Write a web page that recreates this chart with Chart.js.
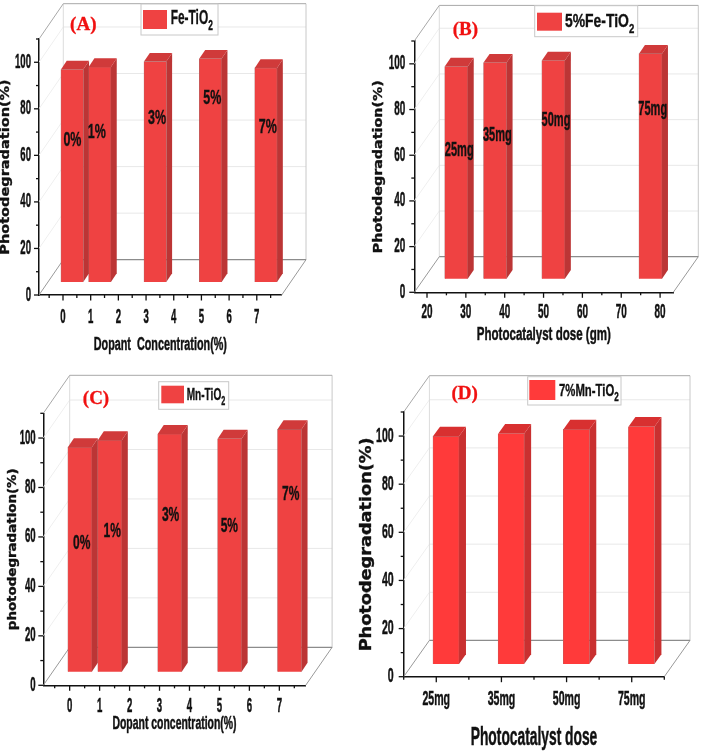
<!DOCTYPE html>
<html>
<head>
<meta charset="utf-8">
<title>Photodegradation</title>
<script src="https://cdn.jsdelivr.net/npm/chart.js@4"></script>
<style>
  html, body { margin: 0; padding: 0; background: #fff; }
  #wrap { position: relative; width: 702px; height: 751px; overflow: hidden; }
  canvas { position: absolute; }
</style>
</head>
<body>
<div id="wrap">
  <canvas id="panelA" width="351" height="365" style="left:0;top:0"></canvas>
  <canvas id="panelB" width="351" height="365" style="left:351px;top:0"></canvas>
  <canvas id="panelC" width="351" height="386" style="left:0;top:365px"></canvas>
  <canvas id="panelD" width="351" height="386" style="left:351px;top:365px"></canvas>
</div>
<script>
// values
const dopantLevels = [0, 1, 3, 5, 7];
const doseLevels = [25, 35, 50, 75];
const doseCategories = ['25mg', '35mg', '50mg', '75mg'];

const feValues = [91.3, 92.4, 94.7, 96, 92];
const feDoseValues = [92.9, 94.6, 95.5, 98.5];
const mnValues = [90.8, 93.6, 96.1, 94.2, 98];
const mnDoseValues = [94.6, 95.7, 97.5, 98.6];

const dopantTexts = ['0%', '1%', '3%', '5%', '7%'];

// where the text on each bar sits, in axis units
const feTextX = [0.34, 1.22, 3.4, 5.39, 7.4];
const feTextY = [66.3, 69.9, 76, 84.4, 71.9];
const feDoseTextX = [28.3, 38.1, 53.2, 78.1];
const feDoseTextY = [62.2, 68.8, 75.3, 80];
const mnTextX = [0.4, 1.42, 3.37, 5.33, 7.38];
const mnTextY = [57.5, 62.3, 68.7, 64.2, 77.3];

const TICK_FONT = '"Liberation Sans"';
const TITLE_FONT = '"Liberation Sans", Arial';

// there is no narrow font here, the figure text is squeezed instead
function squeezeText(ctx, tick, title) {
  const raw = ctx.fillText.bind(ctx);
  ctx.rawFillText = raw;
  ctx.fillText = (text, x, y) => {
    let s = [1, 0.85];
    if (ctx.font.includes('Arial')) s = title;
    else if (ctx.font.includes('Liberation Sans')) s = tick;
    ctx.save();
    ctx.translate(x, y);
    ctx.scale(s[0], s[1]);
    raw(text, 0, 0);
    ctx.strokeStyle = ctx.fillStyle;
    ctx.lineWidth = 0.4;
    ctx.strokeText(text, 0, 0);
    ctx.restore();
  };
}

function boxText(ctx, text, x, y, font, sx, sy, color, align) {
  ctx.save();
  ctx.translate(x, y);
  ctx.scale(sx, sy);
  ctx.font = font;
  ctx.fillStyle = color || '#111';
  ctx.textAlign = align || 'center';
  ctx.textBaseline = 'middle';
  ctx.rawFillText(text, 0, 0);
  ctx.strokeStyle = ctx.fillStyle;
  ctx.lineWidth = 0.3;
  ctx.strokeText(text, 0, 0);
  ctx.restore();
}

function line(ctx, x1, y1, x2, y2, color, w) {
  ctx.strokeStyle = color;
  ctx.lineWidth = w || 1;
  ctx.beginPath();
  ctx.moveTo(x1, y1);
  ctx.lineTo(x2, y2);
  ctx.stroke();
}

function poly(ctx, pts, color) {
  ctx.fillStyle = color;
  ctx.beginPath();
  pts.forEach((p, i) => i ? ctx.lineTo(p[0], p[1]) : ctx.moveTo(p[0], p[1]));
  ctx.closePath();
  ctx.fill();
}

// walls, floor and grid behind the bars
const wallsPlugin = {
  id: 'walls',
  beforeDatasetsDraw(chart) {
    const p = chart.options.plugins.walls;
    const ctx = chart.ctx;
    const { left, right, top, bottom } = chart.chartArea;
    const dx = p.wallDx, dy = p.wallDy;
    const y = chart.scales.y;
    ctx.save();
    y.ticks.forEach(t => {
      if (t.value % 20 !== 0 || t.value === 0) return;
      const py = y.getPixelForValue(t.value);
      line(ctx, left, py, left + dx, py - dy, '#efefef');
      line(ctx, left + dx, py - dy, right + dx, py - dy, '#e8e8e8');
    });
    line(ctx, left + dx, top - dy, left + dx, bottom - dy, '#dcdcdc');
    line(ctx, right + dx, top - dy, right + dx, bottom - dy, '#c8c8c8');
    line(ctx, left, top, left + dx, top - dy, '#a8a8a8');
    line(ctx, left + dx, top - dy, right + dx, top - dy, '#a8a8a8');
    line(ctx, left, bottom, left + dx, bottom - dy, '#999');
    line(ctx, right, bottom, right + dx, bottom - dy, '#999');
    line(ctx, left + dx, bottom - dy, right + dx, bottom - dy, '#8c8c8c', 1.3);
    ctx.restore();
  }
};

// side and top faces of the bars, then the bars are moved onto the floor
const depthPlugin = {
  id: 'depth',
  beforeDatasetDraw(chart, args) {
    const p = chart.options.plugins.depth;
    const ctx = chart.ctx;
    ctx.save();
    ctx.translate(p.shiftX, -p.shiftY);
    chart.getDatasetMeta(args.index).data.forEach(bar => {
      const l = bar.x - bar.width / 2;
      const r = bar.x + bar.width / 2;
      poly(ctx, [[r, bar.y], [r + p.dx, bar.y - p.dy], [r + p.dx, bar.base - p.dy], [r, bar.base]], p.sideColor);
      poly(ctx, [[l, bar.y], [r, bar.y], [r + p.dx, bar.y - p.dy], [l + p.dx, bar.y - p.dy]], p.topColor);
    });
  },
  afterDatasetDraw(chart) {
    chart.ctx.restore();
  }
};

// axis tick marks, text on the bars, panel letter and legend
const notesPlugin = {
  id: 'notes',
  afterDraw(chart) {
    const p = chart.options.plugins.notes;
    const ctx = chart.ctx;
    const { x, y } = chart.scales;
    const { left, right, bottom } = chart.chartArea;
    ctx.save();
    y.ticks.forEach(t => {
      const py = y.getPixelForValue(t.value);
      line(ctx, left - (t.value % 20 === 0 ? 5 : 3), py, left, py, '#111', 1.3);
    });
    if (p.categoryTicks) {
      const step = (right - left) / p.categoryTicks;
      for (let i = 0; i <= p.categoryTicks * 2; i++) {
        const px = left + i * step / 2;
        line(ctx, px, bottom, px, bottom + (i % 2 ? 5.5 : 3), '#111', 1.3);
      }
    } else {
      x.ticks.forEach(t => {
        const px = x.getPixelForValue(t.value);
        line(ctx, px, bottom, px, bottom + (t.label !== '' ? 5.5 : 3), '#111', 1.3);
      });
    }
    (p.texts || []).forEach((text, i) => {
      boxText(ctx, text, x.getPixelForValue(p.textX[i]), y.getPixelForValue(p.textY[i]),
        'bold 16px ' + TICK_FONT, p.textSx, 1.28);
    });
    boxText(ctx, p.letter, p.letterX, p.letterY, 'bold 19px "Liberation Serif", serif', 1, 1, '#f01010');

    const b = p.legend;
    ctx.fillStyle = '#fff';
    ctx.fillRect(b.x, b.y, b.w, b.h);
    ctx.strokeStyle = '#c8c8c8';
    ctx.lineWidth = 1;
    ctx.strokeRect(b.x, b.y, b.w, b.h);
    ctx.fillStyle = chart.data.datasets[0].backgroundColor;
    ctx.fillRect(b.swatchX, b.swatchY, b.swatchW, b.swatchH);
    const font = 'bold ' + b.size + 'px ' + TICK_FONT;
    boxText(ctx, b.text, b.textX, b.textY, font, b.sx, 1.2, '#111', 'left');
    ctx.font = font;
    const w = ctx.measureText(b.text).width * b.sx;
    boxText(ctx, '2', b.textX + w, b.textY + b.size * 0.45, 'bold ' + Math.round(b.size * 0.7) + 'px ' + TICK_FONT, b.sx, 1.2, '#111', 'left');
    ctx.restore();
  }
};

function makePanel(id, p) {
  const padLeft = p.yTitleX - p.yTitleSize / 2;
  const padBottom = p.height - p.xTitleY - p.xTitleSize / 2;
  const padRight = p.width - p.right;
  const canvas = document.getElementById(id);
  squeezeText(canvas.getContext('2d'), [p.tickSx, 1.25], [p.xTitleSx, 1.25]);

  const xScale = {
    offset: false,
    border: { display: true, color: '#111', width: 1.5 },
    grid: { display: false, drawTicks: false },
    ticks: {
      padding: p.xTickPadding,
      autoSkip: false,
      maxRotation: 0,
      color: '#111',
      font: { family: TICK_FONT, weight: 'bold', size: 16, lineHeight: 1 }
    },
    title: {
      display: true,
      text: p.xTitle,
      color: '#111',
      padding: 0,
      font: { family: TITLE_FONT, weight: 'bold', size: p.xTitleSize, lineHeight: 1 }
    },
    afterFit(s) {
      s.height = p.height - padBottom - p.bottom;
      s.paddingLeft = s.paddingRight = s.paddingTop = s.paddingBottom = 0;
    }
  };
  if (p.categories) {
    xScale.type = 'category';
    xScale.offset = true;
  } else {
    xScale.type = 'linear';
    xScale.min = p.xMin;
    xScale.max = p.xMax;
    xScale.ticks.stepSize = p.xStep;
    xScale.ticks.includeBounds = false;
    xScale.ticks.callback = v => (v % p.xLabelStep === 0 ? String(v) : '');
  }

  new Chart(canvas, {
    type: 'bar',
    data: {
      labels: p.categories,
      datasets: [{
        label: p.legend.text + '2',
        data: p.categories ? p.values : p.levels.map((v, i) => ({ x: v, y: p.values[i] })),
        backgroundColor: p.frontColor,
        borderColor: p.edgeColor,
        borderWidth: 0.6,
        barThickness: p.barWidth,
        clip: false
      }]
    },
    options: {
      responsive: false,
      animation: false,
      layout: { padding: { left: padLeft, right: padRight, top: p.top, bottom: padBottom } },
      scales: {
        x: xScale,
        y: {
          min: 0,
          max: 110,
          border: { display: true, color: '#111', width: 1.5 },
          grid: { display: false, drawTicks: false },
          ticks: {
            stepSize: 10,
            padding: p.yTickPadding,
            autoSkip: false,
            color: '#111',
            font: { family: TICK_FONT, weight: 'bold', size: 16, lineHeight: 1 },
            callback: v => (v % 20 === 0 ? String(v) : '')
          },
          title: {
            display: true,
            text: p.yTitle,
            color: '#111',
            padding: 0,
            font: { family: '"DejaVu Sans"', weight: 'bold', size: p.yTitleSize, lineHeight: 1 }
          },
          afterFit(s) {
            s.width = p.left - padLeft;
            s.paddingLeft = s.paddingRight = s.paddingTop = s.paddingBottom = 0;
          }
        }
      },
      plugins: {
        legend: { display: false },
        tooltip: { enabled: false },
        walls: { wallDx: p.wallDx, wallDy: p.wallDy },
        depth: {
          shiftX: p.shiftX, shiftY: p.shiftY, dx: p.depthX, dy: p.depthY,
          sideColor: p.sideColor, topColor: p.topColor
        },
        notes: {
          texts: p.texts, textX: p.textX, textY: p.textY, textSx: p.textSx,
          letter: p.letter, letterX: p.letterX, letterY: p.letterY,
          legend: p.legend, categoryTicks: p.categories ? p.categories.length : 0
        }
      }
    },
    plugins: [wallsPlugin, depthPlugin, notesPlugin]
  });
}

makePanel('panelA', {
  width: 351, height: 365,
  left: 39, right: 281.7, top: 39, bottom: 295,
  wallDx: 24.3, wallDy: 35.3,
  shiftX: 9.1, shiftY: 13, depthX: 5.8, depthY: 8.7, barWidth: 22.3,
  levels: dopantLevels, values: feValues,
  xMin: -0.867, xMax: 7.9, xStep: 0.5, xLabelStep: 1, xTickPadding: 14, yTickPadding: 8,
  tickSx: 0.6, xTitle: 'Dopant  Concentration(%)', xTitleSize: 15, xTitleSx: 0.72, xTitleY: 345,
  yTitle: 'Photodegradation(%)', yTitleSize: 14.5, yTitleX: 6,
  frontColor: '#ef4242', edgeColor: '#b05a5a', sideColor: '#bc3535', topColor: '#d03a3a',
  texts: dopantTexts, textX: feTextX, textY: feTextY, textSx: 0.78,
  letter: '(A)', letterX: 83.3, letterY: 25,
  legend: { x: 141, y: 4, w: 77, h: 31, swatchX: 143, swatchY: 10, swatchW: 24, swatchH: 19, text: 'Fe-TiO', textX: 170.7, textY: 18, size: 17, sx: 0.7 }
});

makePanel('panelB', {
  width: 351, height: 365,
  left: 63.3, right: 322.3, top: 41, bottom: 292.3,
  wallDx: 25, wallDy: 35.6,
  shiftX: 9.8, shiftY: 13.6, depthX: 6, depthY: 8.7, barWidth: 23,
  levels: doseLevels, values: feDoseValues,
  xMin: 16.73, xMax: 83.4, xStep: 5, xLabelStep: 10, xTickPadding: 12, yTickPadding: 9,
  tickSx: 0.62, xTitle: 'Photocatalyst dose (gm)', xTitleSize: 15, xTitleSx: 0.77, xTitleY: 335,
  yTitle: 'Photodegradation(%)', yTitleSize: 14.3, yTitleX: 28.3,
  frontColor: '#ef4242', edgeColor: '#b05a5a', sideColor: '#bc3535', topColor: '#d03a3a',
  texts: doseCategories, textX: feDoseTextX, textY: feDoseTextY, textSx: 0.69,
  letter: '(B)', letterX: 114.3, letterY: 30,
  legend: { x: 183.7, y: 5.7, w: 103, h: 31, swatchX: 186, swatchY: 12.7, swatchW: 25, swatchH: 18, text: '5%Fe-TiO', textX: 214, textY: 22, size: 16, sx: 0.87 }
});

makePanel('panelC', {
  width: 351, height: 386,
  left: 43.3, right: 305.7, top: 48.3, bottom: 320.3,
  wallDx: 26.4, wallDy: 38,
  shiftX: 10.2, shiftY: 13.6, depthX: 6, depthY: 9, barWidth: 24,
  levels: dopantLevels, values: mnValues,
  xMin: -0.88, xMax: 7.88, xStep: 0.5, xLabelStep: 1, xTickPadding: 12.7, yTickPadding: 7.6,
  tickSx: 0.6, xTitle: 'Dopant concentration(%)', xTitleSize: 14.5, xTitleSx: 0.72, xTitleY: 359,
  yTitle: 'photodegradation(%)', yTitleSize: 13.4, yTitleX: 12.7,
  frontColor: '#ef4242', edgeColor: '#b05a5a', sideColor: '#bc3535', topColor: '#d03a3a',
  texts: dopantTexts, textX: mnTextX, textY: mnTextY, textSx: 0.75,
  letter: '(C)', letterX: 96, letterY: 34,
  legend: { x: 158.7, y: 16.7, w: 70, h: 27.6, swatchX: 161.3, swatchY: 20.7, swatchW: 22.7, swatchH: 17.6, text: 'Mn-TiO', textX: 186.7, textY: 30, size: 14, sx: 0.72 }
});

makePanel('panelD', {
  width: 351, height: 386,
  left: 52.7, right: 313.3, top: 47, bottom: 311.7,
  wallDx: 25.7, wallDy: 36.3,
  shiftX: 9.7, shiftY: 12.7, depthX: 7, depthY: 9.7, barWidth: 26,
  categories: doseCategories, values: mnDoseValues,
  xTickPadding: 15, yTickPadding: 10,
  tickSx: 0.66, xTitle: 'Photocatalyst dose', xTitleSize: 20, xTitleSx: 0.69, xTitleY: 373.3,
  yTitle: 'Photodegradation(%)', yTitleSize: 17.7, yTitleX: 15.7,
  frontColor: '#ff3a3a', edgeColor: '#c65a5a', sideColor: '#c93030', topColor: '#d83030',
  letter: '(D)', letterX: 113.7, letterY: 29,
  legend: { x: 176.7, y: 11.7, w: 93.3, h: 28.3, swatchX: 178.3, swatchY: 15, swatchW: 26, swatchH: 20, text: '7%Mn-TiO', textX: 208, textY: 26, size: 14, sx: 0.81 }
});
</script>
</body>
</html>
